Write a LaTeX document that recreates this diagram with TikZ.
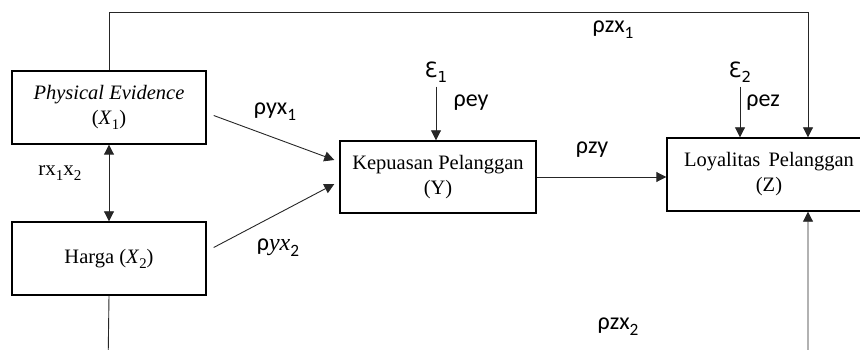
\documentclass[tikz,border=0pt]{standalone}
\usepackage{fontspec}
\setmainfont{Liberation Serif}
\newfontfamily\lblfont{Carlito}
\newfontfamily\epsfont{DejaVu Sans}
\usetikzlibrary{arrows.meta}
\newcommand{\sbx}[1]{\raisebox{-0.25em}{\fontsize{0.72em}{1em}\selectfont #1}}
\begin{document}
\begin{tikzpicture}[x=1pt,y=-1pt,
  box/.style={draw,line width=1.4pt,minimum width=194pt,minimum height=73pt,align=center,inner sep=0pt,
    font=\fontsize{20.5}{25}\selectfont},
  conn/.style={line width=0.9pt,draw=black!85},
  arr/.style={conn,-{Triangle[length=10pt,width=10pt]}},
  darr/.style={conn,{Triangle[length=10pt,width=10pt]}-{Triangle[length=10pt,width=10pt]}},
  lbl/.style={font=\lblfont\fontsize{24}{26}\selectfont,inner sep=0pt},
  eps/.style={font=\epsfont\fontsize{21}{24}\selectfont,inner sep=0pt}]
\useasboundingbox (0,0) rectangle (860,350);
\clip (0,0) rectangle (860,350);
\node[box] (X1) at (109,107.5) {\textit{Physical Evidence}\\(\textit{X}\sbx{1})};
\node[box] (X2) at (109,258.5) {Harga (\textit{X}\sbx{2})};
\node[box,minimum width=196pt,minimum height=72pt] (Y) at (438,177) {Kepuasan Pelanggan\\(Y)};
\node[box,minimum width=204pt,minimum height=73pt] (Z) at (769,174.5) {Loyalitas\hspace{0.4em}Pelanggan\\(Z)};
\node[eps] (e1) at (436,72) {Ɛ\sbx{1}};
\node[eps] (e2) at (740,72) {Ɛ\sbx{2}};
\coordinate (tl) at (109,12);
\coordinate (tr) at (808,12);
\coordinate (bl) at (108,370);
\coordinate (br) at (808,370);
\draw[arr] (X1.north) -- (tl) -- (tr) -- (tr |- Z.north);
\draw[arr] (X2.south) -- (bl) -- (br) -- (br |- Z.south);
\draw[darr] (X1.south) -- (X2.north);
\draw[arr] ([xshift=7pt,yshift=-8pt]X1.east) -- ([xshift=-5pt,yshift=17pt]Y.west);
\draw[arr] ([xshift=7pt,yshift=11pt]X2.east) -- ([xshift=-5pt,yshift=-7pt]Y.west);
\draw[arr] ([yshift=-4pt]e1.south) -- (e1.south |- Y.north);
\draw[arr] ([yshift=-4pt]e2.south) -- (e2.south |- Z.north);
\draw[arr] (Y.east) -- (Z.west |- Y.east);
\node[lbl] (l1) at (613,30) {ρzx\sbx{1}};
\node[lbl] (l2) at (275,112) {ρyx\sbx{1}};
\node[font=\fontsize{21}{24}\selectfont,inner sep=0pt] (l3) at (60,173) {rx\sbx{1}x\sbx{2}};
\node[lbl] (l4) at (278,248) {ρ\textit{\rmfamily yx}\sbx{2}};
\node[lbl] (l5) at (471,103) {ρey};
\node[lbl] (l6) at (592,150) {ρzy};
\node[lbl] (l7) at (763,103) {ρez};
\node[lbl] (l8) at (618,327) {ρzx\sbx{2}};
\end{tikzpicture}
\end{document}
